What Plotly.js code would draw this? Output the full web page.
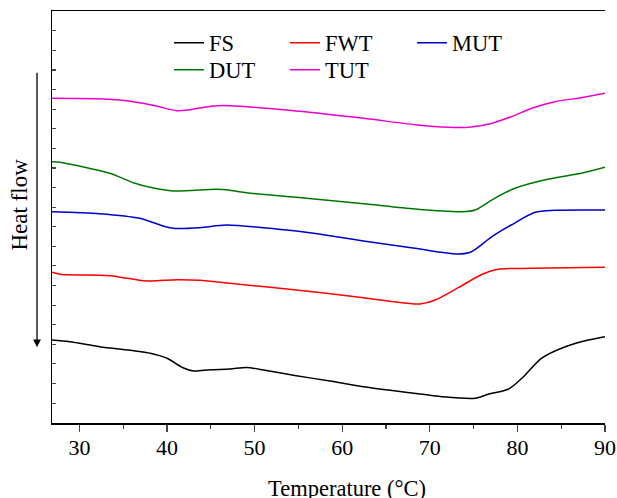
<!DOCTYPE html>
<html>
<head>
<meta charset="utf-8">
<script src="https://cdn.plot.ly/plotly-3.0.1.min.js"></script>
<style>html,body{margin:0;padding:0;background:#fff}#chart{width:617px;height:498px}</style>
</head>
<body>
<div id="chart"></div>
<script>
// Temperature (°C) and heat flow (arbitrary units, curves offset vertically)
const fsT = [26.87, 28.89, 32.33, 38.08, 40.0, 41.82, 43.03, 44.95, 47.18, 49.1, 51.02, 54.75, 58.59, 62.43, 66.17, 68.91, 71.33, 75.17, 76.68, 79.0, 80.51, 82.74, 85.47, 88.1, 90];
const fsV = [8.3, 8.13, 7.63, 6.97, 6.47, 5.53, 5.2, 5.33, 5.4, 5.55, 5.3, 4.73, 4.2, 3.63, 3.2, 2.9, 2.63, 2.47, 2.87, 3.4, 4.47, 6.47, 7.63, 8.3, 8.63];

const fwtT = [26.87, 27.78, 33.44, 37.68, 41.12, 43.74, 47.18, 54.75, 62.43, 67.39, 68.91, 70.62, 73.25, 75.98, 77.8, 81.63, 90];
const fwtV = [15.08, 14.87, 14.73, 14.2, 14.33, 14.27, 13.97, 13.3, 12.53, 11.97, 11.9, 12.3, 13.53, 14.87, 15.37, 15.47, 15.57];

const mutT = [26.87, 32.33, 36.87, 39.2, 40.71, 43.74, 46.77, 51.02, 54.75, 58.59, 62.43, 68.3, 73.25, 74.76, 77.09, 79.3, 82.03, 84.26, 90];
const mutV = [21.13, 20.93, 20.47, 19.8, 19.47, 19.53, 19.8, 19.53, 19.2, 18.73, 18.2, 17.47, 16.9, 17.13, 18.63, 19.8, 21.07, 21.27, 21.3];

const dutT = [26.87, 27.78, 33.44, 36.16, 38.08, 40.71, 45.66, 47.18, 49.1, 54.75, 62.43, 68.3, 73.65, 75.17, 77.39, 79.71, 83.45, 87.29, 90];
const dutV = [26.13, 26.07, 24.97, 24.03, 23.57, 23.2, 23.37, 23.27, 23.03, 22.57, 21.93, 21.4, 21.13, 21.3, 22.47, 23.47, 24.37, 24.97, 25.57];

const tutT = [26.87, 32.73, 36.16, 38.79, 41.12, 42.63, 45.26, 47.18, 54.75, 62.43, 68.3, 72.14, 74.46, 76.68, 79.3, 81.63, 84.26, 87.29, 90];
const tutV = [32.47, 32.4, 32.13, 31.7, 31.23, 31.33, 31.7, 31.73, 31.2, 30.47, 29.83, 29.57, 29.57, 29.87, 30.63, 31.47, 32.13, 32.53, 32.97];

const xTicks = [30, 40, 50, 60, 70, 80, 90];

const font = 'Liberation Serif, Times New Roman, serif';
function tr(name, x, y, color, legend) {
  return {x: x, y: y, name: name, type: 'scatter', mode: 'lines',
    line: {color: color, width: 1.5, shape: 'spline', smoothing: 0.8},
    legend: legend};
}
const data = [
  tr('FS', fsT, fsV, '#000000', 'legend'),
  tr('FWT', fwtT, fwtV, '#ff0000', 'legend2'),
  tr('MUT', mutT, mutV, '#0000cc', 'legend3'),
  tr('DUT', dutT, dutV, '#007700', 'legend4'),
  tr('TUT', tutT, tutV, '#ee00cc', 'legend5')
];
function leg(x, y) {
  return {orientation: 'v', x: x, y: y, xanchor: 'left', yanchor: 'middle',
    bgcolor: 'rgba(0,0,0,0)', borderwidth: 0,
    font: {family: font, size: 22.5, color: '#000'}};
}
// plot area: left 52, width 553, top 11, height 412
function lx(px) { return (px - 52) / 553; }
function ly(px) { return (423 - px) / 412; }
const layout = {
  width: 617, height: 498,
  margin: {l: 52, r: 12, t: 11, b: 75},
  paper_bgcolor: '#fff', plot_bgcolor: '#fff',
  font: {family: font, color: '#000'},
  showlegend: true,
  legend: leg(lx(169), ly(43)),
  legend2: leg(lx(285), ly(43)),
  legend3: leg(lx(412), ly(43)),
  legend4: leg(lx(169), ly(70)),
  legend5: leg(lx(285), ly(70)),
  xaxis: {range: [26.87, 90], tickvals: xTicks, ticks: 'outside', ticklen: 7, tickwidth: 1.3,
    ticklabelstandoff: -3,
    minor: {dtick: 5, tick0: 0, ticks: 'outside', ticklen: 4, tickwidth: 1.3},
    showline: true, linewidth: 1.5, linecolor: '#000', mirror: true, showgrid: false, zeroline: false,
    tickfont: {family: font, size: 22, color: '#000'}},
  yaxis: {range: [0, 41.2], tick0: 1.99, dtick: 1.96, ticks: 'inside', ticklen: 4, tickwidth: 1.2,
    showticklabels: false, showline: true, linewidth: 1.5, linecolor: '#000', mirror: false,
    showgrid: false, zeroline: false},
  yaxis2: {overlaying: 'y', side: 'right', range: [0, 41.2], tick0: 3.93, dtick: 4.15,
    ticks: 'inside', ticklen: 4, tickwidth: 1.2, showticklabels: false, showline: true,
    linewidth: 1.5, linecolor: '#000', showgrid: false, zeroline: false},
  annotations: [
    {text: 'Temperature (°C)', xref: 'paper', yref: 'paper', x: lx(347), y: ly(488),
      showarrow: false, font: {family: font, size: 22.5, color: '#000'}, xanchor: 'center', yanchor: 'middle'},
    {text: 'Heat flow', xref: 'paper', yref: 'paper', x: -0.058, y: 0.53, textangle: -90,
      showarrow: false, font: {family: font, size: 23, color: '#000'}, xanchor: 'center', yanchor: 'middle'},
    {text: ' ', xref: 'paper', yref: 'paper', x: -0.0271, y: 0.184, ax: 0, ay: -283,
      showarrow: true, arrowhead: 2, arrowsize: 1.2, arrowwidth: 1.3, arrowcolor: '#000', standoff: 0, startstandoff: 0}
  ]
};
Plotly.newPlot('chart', data, layout, {displayModeBar: false, staticPlot: true});
</script>
</body>
</html>
